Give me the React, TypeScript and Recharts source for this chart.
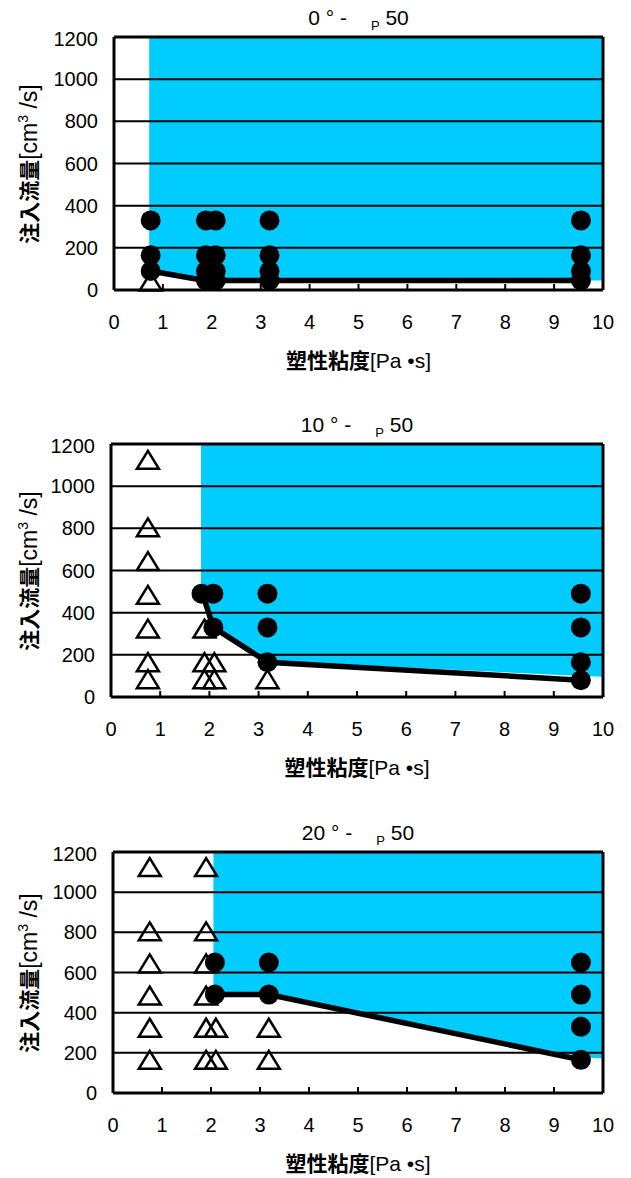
import React from "react";
import { ComposedChart, XAxis, YAxis, Area, Scatter, ReferenceLine } from "recharts";

const FONT = "'Liberation Sans', Arial, Helvetica, sans-serif";
const CJK = "'Noto Sans CJK JP', 'Noto Sans CJK SC', sans-serif";
const BLUE = "#00CCFF";

const X_TICKS = [0, 1, 2, 3, 4, 5, 6, 7, 8, 9, 10];
const Y_TICKS = [0, 200, 400, 600, 800, 1000, 1200];
const GRID_Y = [200, 400, 600, 800, 1000];
const Y_MAX = 1200;

// 0° panel
const ANGLE_0 = "0";
const CIRCLES_0 = [
  { x: 0.75, y: 330 }, { x: 0.75, y: 165 }, { x: 0.75, y: 90 },
  { x: 1.88, y: 330 }, { x: 1.88, y: 165 }, { x: 1.88, y: 90 }, { x: 1.88, y: 45 },
  { x: 2.08, y: 330 }, { x: 2.08, y: 165 }, { x: 2.08, y: 90 }, { x: 2.08, y: 45 },
  { x: 3.18, y: 330 }, { x: 3.18, y: 165 }, { x: 3.18, y: 90 }, { x: 3.18, y: 45 },
  { x: 9.55, y: 330 }, { x: 9.55, y: 165 }, { x: 9.55, y: 90 }, { x: 9.55, y: 45 },
];
const TRIANGLES_0 = [{ x: 0.75, y: 35 }];
const LINE_0 = [{ x: 0.75, y: 90 }, { x: 1.85, y: 45 }, { x: 3.18, y: 45 }, { x: 9.55, y: 45 }];
const REGION_0 = [{ x: 0.72, low: 88 }, { x: 1.85, low: 45 }, { x: 10, low: 45 }];

// 10° panel
const ANGLE_10 = "10";
const CIRCLES_10 = [
  { x: 1.84, y: 490 },
  { x: 2.08, y: 490 }, { x: 2.08, y: 330 },
  { x: 3.18, y: 490 }, { x: 3.18, y: 330 }, { x: 3.18, y: 165 },
  { x: 9.55, y: 490 }, { x: 9.55, y: 330 }, { x: 9.55, y: 165 }, { x: 9.55, y: 80 },
];
const TRIANGLES_10 = [
  { x: 0.75, y: 1120 }, { x: 0.75, y: 800 }, { x: 0.75, y: 640 }, { x: 0.75, y: 480 },
  { x: 0.75, y: 320 }, { x: 0.75, y: 160 }, { x: 0.75, y: 80 },
  { x: 1.9, y: 320 }, { x: 1.9, y: 160 }, { x: 1.9, y: 80 },
  { x: 2.1, y: 160 }, { x: 2.1, y: 80 },
  { x: 3.18, y: 80 },
];
const LINE_10 = [{ x: 1.86, y: 490 }, { x: 2.08, y: 330 }, { x: 3.18, y: 165 }, { x: 9.55, y: 80 }];
const REGION_10 = [{ x: 1.83, low: 490 }, { x: 2.08, low: 330 }, { x: 3.18, low: 172 }, { x: 9.55, low: 100 }, { x: 10, low: 96 }];

// 20° panel
const ANGLE_20 = "20";
const CIRCLES_20 = [
  { x: 2.08, y: 650 }, { x: 2.08, y: 490 },
  { x: 3.18, y: 650 }, { x: 3.18, y: 490 },
  { x: 9.55, y: 650 }, { x: 9.55, y: 490 }, { x: 9.55, y: 330 }, { x: 9.55, y: 165 },
];
const TRIANGLES_20 = [
  { x: 0.75, y: 1120 }, { x: 0.75, y: 800 }, { x: 0.75, y: 640 }, { x: 0.75, y: 480 },
  { x: 0.75, y: 320 }, { x: 0.75, y: 160 },
  { x: 1.9, y: 1120 }, { x: 1.9, y: 800 }, { x: 1.9, y: 640 }, { x: 1.9, y: 480 },
  { x: 1.9, y: 320 }, { x: 1.9, y: 160 },
  { x: 2.1, y: 320 }, { x: 2.1, y: 160 },
  { x: 3.18, y: 320 }, { x: 3.18, y: 160 },
];
const LINE_20 = [{ x: 2.08, y: 490 }, { x: 3.18, y: 490 }, { x: 9.55, y: 165 }];
const REGION_20 = [{ x: 2.05, low: 500 }, { x: 3.18, low: 500 }, { x: 9.55, low: 178 }, { x: 10, low: 172 }];

const PANELS = [
  { angle: ANGLE_0, circles: CIRCLES_0, triangles: TRIANGLES_0, line: LINE_0, region: REGION_0, top: 37, h: 253, left: 114 },
  { angle: ANGLE_10, circles: CIRCLES_10, triangles: TRIANGLES_10, line: LINE_10, region: REGION_10, top: 444, h: 253, left: 111 },
  { angle: ANGLE_20, circles: CIRCLES_20, triangles: TRIANGLES_20, line: LINE_20, region: REGION_20, top: 852, h: 241, left: 113 },
];

const W = 631;
const PLOT_RIGHT = 603;

const Dot = (p: any) => <circle cx={p.cx} cy={p.cy} r={10} fill="#000" />;
const Tri = (p: any) => (
  <polygon
    points={`${p.cx},${p.cy - 10} ${p.cx - 11},${p.cy + 8} ${p.cx + 11},${p.cy + 8}`}
    fill="none"
    stroke="#000"
    strokeWidth={2.5}
    strokeLinejoin="miter"
  />
);
const NoMark = () => <g />;

function Panel({ p }: { p: (typeof PANELS)[number] }) {
  const chartTop = p.top - 10;
  const chartH = p.h + 60;
  const cx = (p.left + PLOT_RIGHT) / 2;
  const band = p.region.map((r) => ({ x: r.x, band: [r.low, Y_MAX] }));
  return (
    <>
      <div
        style={{
          position: "absolute", left: p.left, width: PLOT_RIGHT - p.left, top: p.top - 31,
          textAlign: "center", fontFamily: FONT, fontSize: 21, lineHeight: "24px", whiteSpace: "pre",
        }}
      >
        <span>{p.angle} ° -</span>
        <span style={{ fontSize: 13, marginLeft: 24, position: "relative", top: 5 }}>P</span>
        <span> 50</span>
      </div>
      <div style={{ position: "absolute", top: chartTop, left: 0 }}>
        <ComposedChart
          width={W}
          height={chartH}
          data={band}
          margin={{ top: 10, right: W - PLOT_RIGHT, left: p.left - 60, bottom: 20 }}
        >
          <XAxis
            type="number"
            dataKey="x"
            domain={[0, 10]}
            ticks={X_TICKS}
            height={30}
            axisLine={false}
            tickLine={{ stroke: "#000", strokeWidth: 2 }}
            tickSize={-6}
            tickMargin={31}
            tick={{ fill: "#000", fontSize: 20, fontFamily: FONT }}
          />
          <YAxis
            type="number"
            dataKey="y"
            domain={[0, Y_MAX]}
            ticks={Y_TICKS}
            width={60}
            axisLine={false}
            tickLine={false}
            tickMargin={10}
            tick={{ fill: "#000", fontSize: 20, fontFamily: FONT }}
          />
          <Area
            type="linear"
            dataKey="band"
            stroke="none"
            fill={BLUE}
            fillOpacity={1}
            isAnimationActive={false}
            dot={false}
            activeDot={false}
          />
          {GRID_Y.map((v) => (
            <ReferenceLine key={v} y={v} stroke="#000" strokeWidth={2} />
          ))}
          <ReferenceLine y={0} stroke="#000" strokeWidth={3} />
          <ReferenceLine y={Y_MAX} stroke="#000" strokeWidth={3} />
          <ReferenceLine x={0} stroke="#000" strokeWidth={3} />
          <ReferenceLine x={10} stroke="#000" strokeWidth={3} />
          <Scatter data={p.triangles} shape={Tri} isAnimationActive={false} />
          <Scatter
            data={p.line}
            shape={NoMark}
            line={{ stroke: "#000", strokeWidth: 5.5 }}
            lineType="joint"
            isAnimationActive={false}
          />
          <Scatter data={p.circles} shape={Dot} isAnimationActive={false} />
        </ComposedChart>
      </div>
      <div
        style={{
          position: "absolute", left: 30, top: p.top + p.h / 2,
          transform: "translate(-50%, -50%) rotate(-90deg)", whiteSpace: "pre",
          fontFamily: FONT, fontSize: 23, lineHeight: "26px",
        }}
      >
        <span style={{ fontFamily: CJK, fontWeight: 700, fontSize: 21 }}>注入流量</span>
        <span>[cm</span>
        <span style={{ fontSize: 14, position: "relative", top: -9 }}>3</span>
        <span> /s]</span>
      </div>
      <div
        style={{
          position: "absolute", left: cx, top: p.top + p.h + 70,
          transform: "translate(-50%, -50%)", whiteSpace: "pre",
          fontFamily: FONT, fontSize: 21, lineHeight: "24px",
        }}
      >
        <span style={{ fontFamily: CJK, fontWeight: 700 }}>塑性粘度</span>
        <span>[Pa •s]</span>
      </div>
    </>
  );
}

export default function App() {
  return (
    <div style={{ position: "absolute", left: 0, top: 0, width: W, height: 1178, background: "#fff" }}>
      {PANELS.map((p) => (
        <Panel key={p.angle} p={p} />
      ))}
    </div>
  );
}
